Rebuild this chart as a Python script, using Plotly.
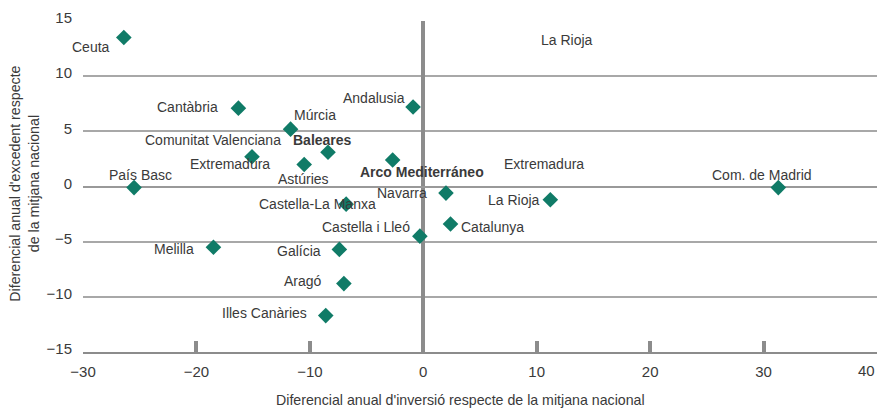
import plotly.graph_objects as go

# Regions (points)
names = ["Ceuta", "Cantàbria", "Múrcia", "Andalusia", "Baleares", "Extremadura",
         "Astúries", "Arco Mediterráneo", "País Basc", "Castella-La Manxa", "Navarra",
         "La Rioja", "Com. de Madrid", "Castella i Lleó", "Catalunya", "Melilla",
         "Galícia", "Aragó", "Illes Canàries"]
inversio = [-26.4, -16.3, -11.7, -0.9, -8.4, -15.1, -10.5, -2.7, -25.5, -6.8, 2.0,
            11.2, 31.3, -0.3, 2.4, -18.5, -7.4, -7.0, -8.6]
excedent = [13.5, 7.1, 5.2, 7.2, 3.1, 2.7, 2.0, 2.4, -0.1, -1.6, -0.6,
            -1.2, -0.1, -4.5, -3.4, -5.5, -5.7, -8.8, -11.7]
bold_names = ["Baleares", "Arco Mediterráneo"]

# Labels without a marker
stray_labels = ["La Rioja", "Extremadura", "Comunitat Valenciana"]
stray_x = [12.66, 10.6, -18.5]
stray_y = [13.3, 2.0, 4.17]

x_ticks = [-30, -20, -10, 0, 10, 20, 30, 40]
x_ticktext = ["−30", "−20", "−10", "0", "10", "20", "30", "40"]
y_ticks = [-15, -10, -5, 0, 5, 10, 15]

x_title = "Diferencial anual d'inversió respecte de la mitjana nacional"
y_title = "Diferencial anual d'excedent respecte<br>de la mitjana nacional"

# label placement styles (anchor, xshift px, yshift px)
label_style = {
    "Ceuta": ("right", -12, -9),
    "Cantàbria": ("right", -18, 1),
    "Múrcia": ("left", 1, 14),
    "Andalusia": ("right", -6, 9),
    "Baleares": ("center", -6, 12),
    "Extremadura": ("center", -22, -7),
    "Astúries": ("center", -1, -15),
    "Arco Mediterráneo": ("center", 29, -12),
    "País Basc": ("center", 6, 13),
    "Castella-La Manxa": ("center", -29, 0),
    "Navarra": ("right", -17, 0),
    "La Rioja": ("right", -8, 0),
    "Com. de Madrid": ("center", -16, 13),
    "Castella i Lleó": ("right", -8, 9),
    "Catalunya": ("left", 8, -3),
    "Melilla": ("right", -17, -2),
    "Galícia": ("right", -16, -2),
    "Aragó": ("right", -20, 3),
    "Illes Canàries": ("right", -17, 3),
}

TEXT = "#3a3a3a"
FONT = "Liberation Sans"
GRID = "#a8a8a8"
AX = "#8c8c8c"

fig = go.Figure()
fig.add_trace(go.Scatter(
    x=inversio, y=excedent, mode="markers",
    marker=dict(symbol="diamond", size=12, color="#107b67"),
    hoverinfo="text", text=names, showlegend=False,
))

annotations = []
for n, xv, yv in zip(names, inversio, excedent):
    anc, xs, ys = label_style[n]
    txt = f"<b>{n}</b>" if n in bold_names else n
    annotations.append(dict(x=xv, y=yv, xref="x", yref="y", text=txt, showarrow=False,
                            xanchor=anc, yanchor="middle", xshift=xs, yshift=ys,
                            font=dict(family=FONT, size=14, color=TEXT)))
for t, xv, yv in zip(stray_labels, stray_x, stray_y):
    annotations.append(dict(x=xv, y=yv, xref="x", yref="y", text=t, showarrow=False,
                            xanchor="center", yanchor="middle",
                            font=dict(family=FONT, size=14, color=TEXT)))

# last x tick label sits right-aligned against the edge
annotations.append(dict(x=x_ticks[-1], y=0, xref="x", yref="paper", text=x_ticktext[-1],
                        showarrow=False, xanchor="right", yanchor="top", yshift=-8,
                        font=dict(family=FONT, size=15, color=TEXT)))

annotations.append(dict(x=0.476, y=-0.145, xref="paper", yref="paper", text=x_title,
                        showarrow=False, xanchor="center", yanchor="middle",
                        font=dict(family=FONT, size=14.2, color=TEXT)))
annotations.append(dict(x=-0.0737, y=0.51, xref="paper", yref="paper", text=y_title,
                        showarrow=False, xanchor="center", yanchor="middle", textangle=-90,
                        font=dict(family=FONT, size=14.2, color=TEXT)))

fig.update_layout(
    width=877, height=412,
    margin=dict(l=83, r=0, t=21, b=60),
    plot_bgcolor="white", paper_bgcolor="white",
    font=dict(family=FONT, color=TEXT),
    annotations=annotations,
    xaxis=dict(range=[-30, 40], tickvals=x_ticks, ticktext=x_ticktext[:-1] + [""],
               showgrid=False,
               zeroline=True, zerolinecolor=AX, zerolinewidth=4,
               showline=True, linecolor=AX, linewidth=2,
               ticks="inside", ticklen=11, tickwidth=4, tickcolor=AX,
               ticklabelstandoff=5,
               tickfont=dict(family=FONT, size=15, color=TEXT)),
    yaxis=dict(range=[-15, 15], tickvals=y_ticks, showgrid=True, gridcolor=GRID, gridwidth=1.5,
               zeroline=True, zerolinecolor="#999999", zerolinewidth=2,
               showline=False, ticks="", ticklabelstandoff=10, ticklabelshift=-3,
               tickfont=dict(family=FONT, size=15, color=TEXT)),
)

fig.write_html("out.html", config={"displayModeBar": False},
               post_script="document.body.style.margin='0';document.body.style.overflow='hidden';")
